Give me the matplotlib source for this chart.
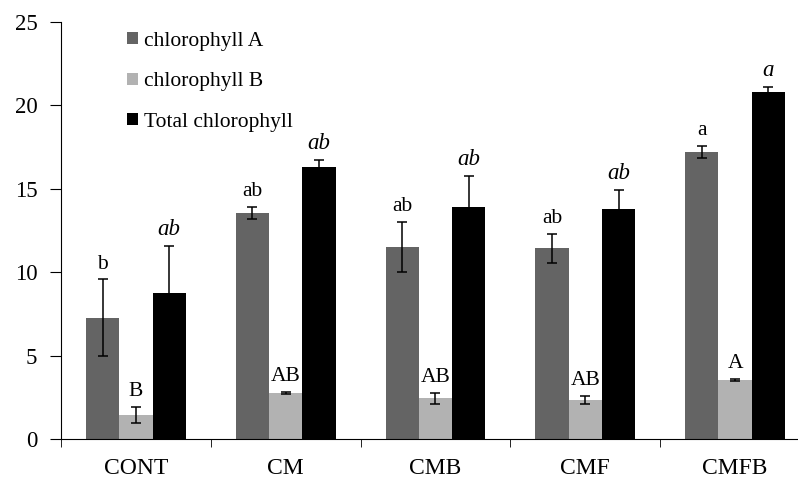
import matplotlib.pyplot as plt
import numpy as np

groups = ['CONT', 'CM', 'CMB', 'CMF', 'CMFB']
chl_a = [7.27, 13.53, 11.53, 11.43, 17.22]
chl_a_err = [2.3, 0.37, 1.5, 0.85, 0.35]
chl_b = [1.44, 2.76, 2.44, 2.34, 3.52]
chl_b_err = [0.47, 0.08, 0.34, 0.23, 0.07]
chl_tot = [8.77, 16.33, 13.93, 13.77, 20.82]
chl_tot_err = [2.82, 0.38, 1.86, 1.15, 0.3]
lab_a = ['b', 'ab', 'ab', 'ab', 'a']
lab_b = ['B', 'AB', 'AB', 'AB', 'A']
lab_tot = ['ab', 'ab', 'ab', 'ab', 'a']

plt.rcParams['font.family'] = ['Liberation Serif', 'DejaVu Serif']

fig = plt.figure(figsize=(7.98, 4.79), dpi=100)
ax = fig.add_axes([61/798, 40/479, 737/798, 417/479])

x = np.arange(len(groups))
w = 0.222
ekw = dict(elinewidth=1.1, capthick=1.1, ecolor='black')
ax.bar(x - w, chl_a, w, yerr=chl_a_err, color='#646464', capsize=3.5, error_kw=ekw, label='chlorophyll A')
ax.bar(x, chl_b, w, yerr=chl_b_err, color='#b2b2b2', capsize=3.5, error_kw=ekw, label='chlorophyll B')
ax.bar(x + w, chl_tot, w, yerr=chl_tot_err, color='black', capsize=3.5, error_kw=ekw, label='Total chlorophyll')

for i in range(len(groups)):
    ax.text(x[i] - w, chl_a[i] + chl_a_err[i] + 0.35, lab_a[i], ha='center', va='bottom', fontsize=15.5)
    ax.text(x[i], chl_b[i] + chl_b_err[i] + 0.35, lab_b[i], ha='center', va='bottom', fontsize=15.5)
    ax.text(x[i] + w, chl_tot[i] + chl_tot_err[i] + 0.35, lab_tot[i], ha='center', va='bottom', fontsize=16.5, style='italic')

ax.set_xlim(-0.5, 4.42)
ax.set_ylim(0, 25)
ax.set_yticks([0, 5, 10, 15, 20, 25])
ax.set_xticks(x)
ax.set_xticklabels(groups)
ax.set_xticks(np.arange(-0.5, 4.5, 1), minor=True)
ax.tick_params(axis='x', which='major', length=0, labelsize=17, pad=14)
ax.tick_params(axis='x', which='minor', length=6, direction='out')
ax.tick_params(axis='y', length=8, direction='out', labelsize=16.5, pad=9)
for s in ['top', 'right']:
    ax.spines[s].set_visible(False)

ax.legend(frameon=False, loc='upper left', bbox_to_anchor=(0.063, 1.023), fontsize=15.5,
          handlelength=0.5, handleheight=0.5, handletextpad=0.3, labelspacing=1.0)

fig.savefig('out.png', dpi=100)
